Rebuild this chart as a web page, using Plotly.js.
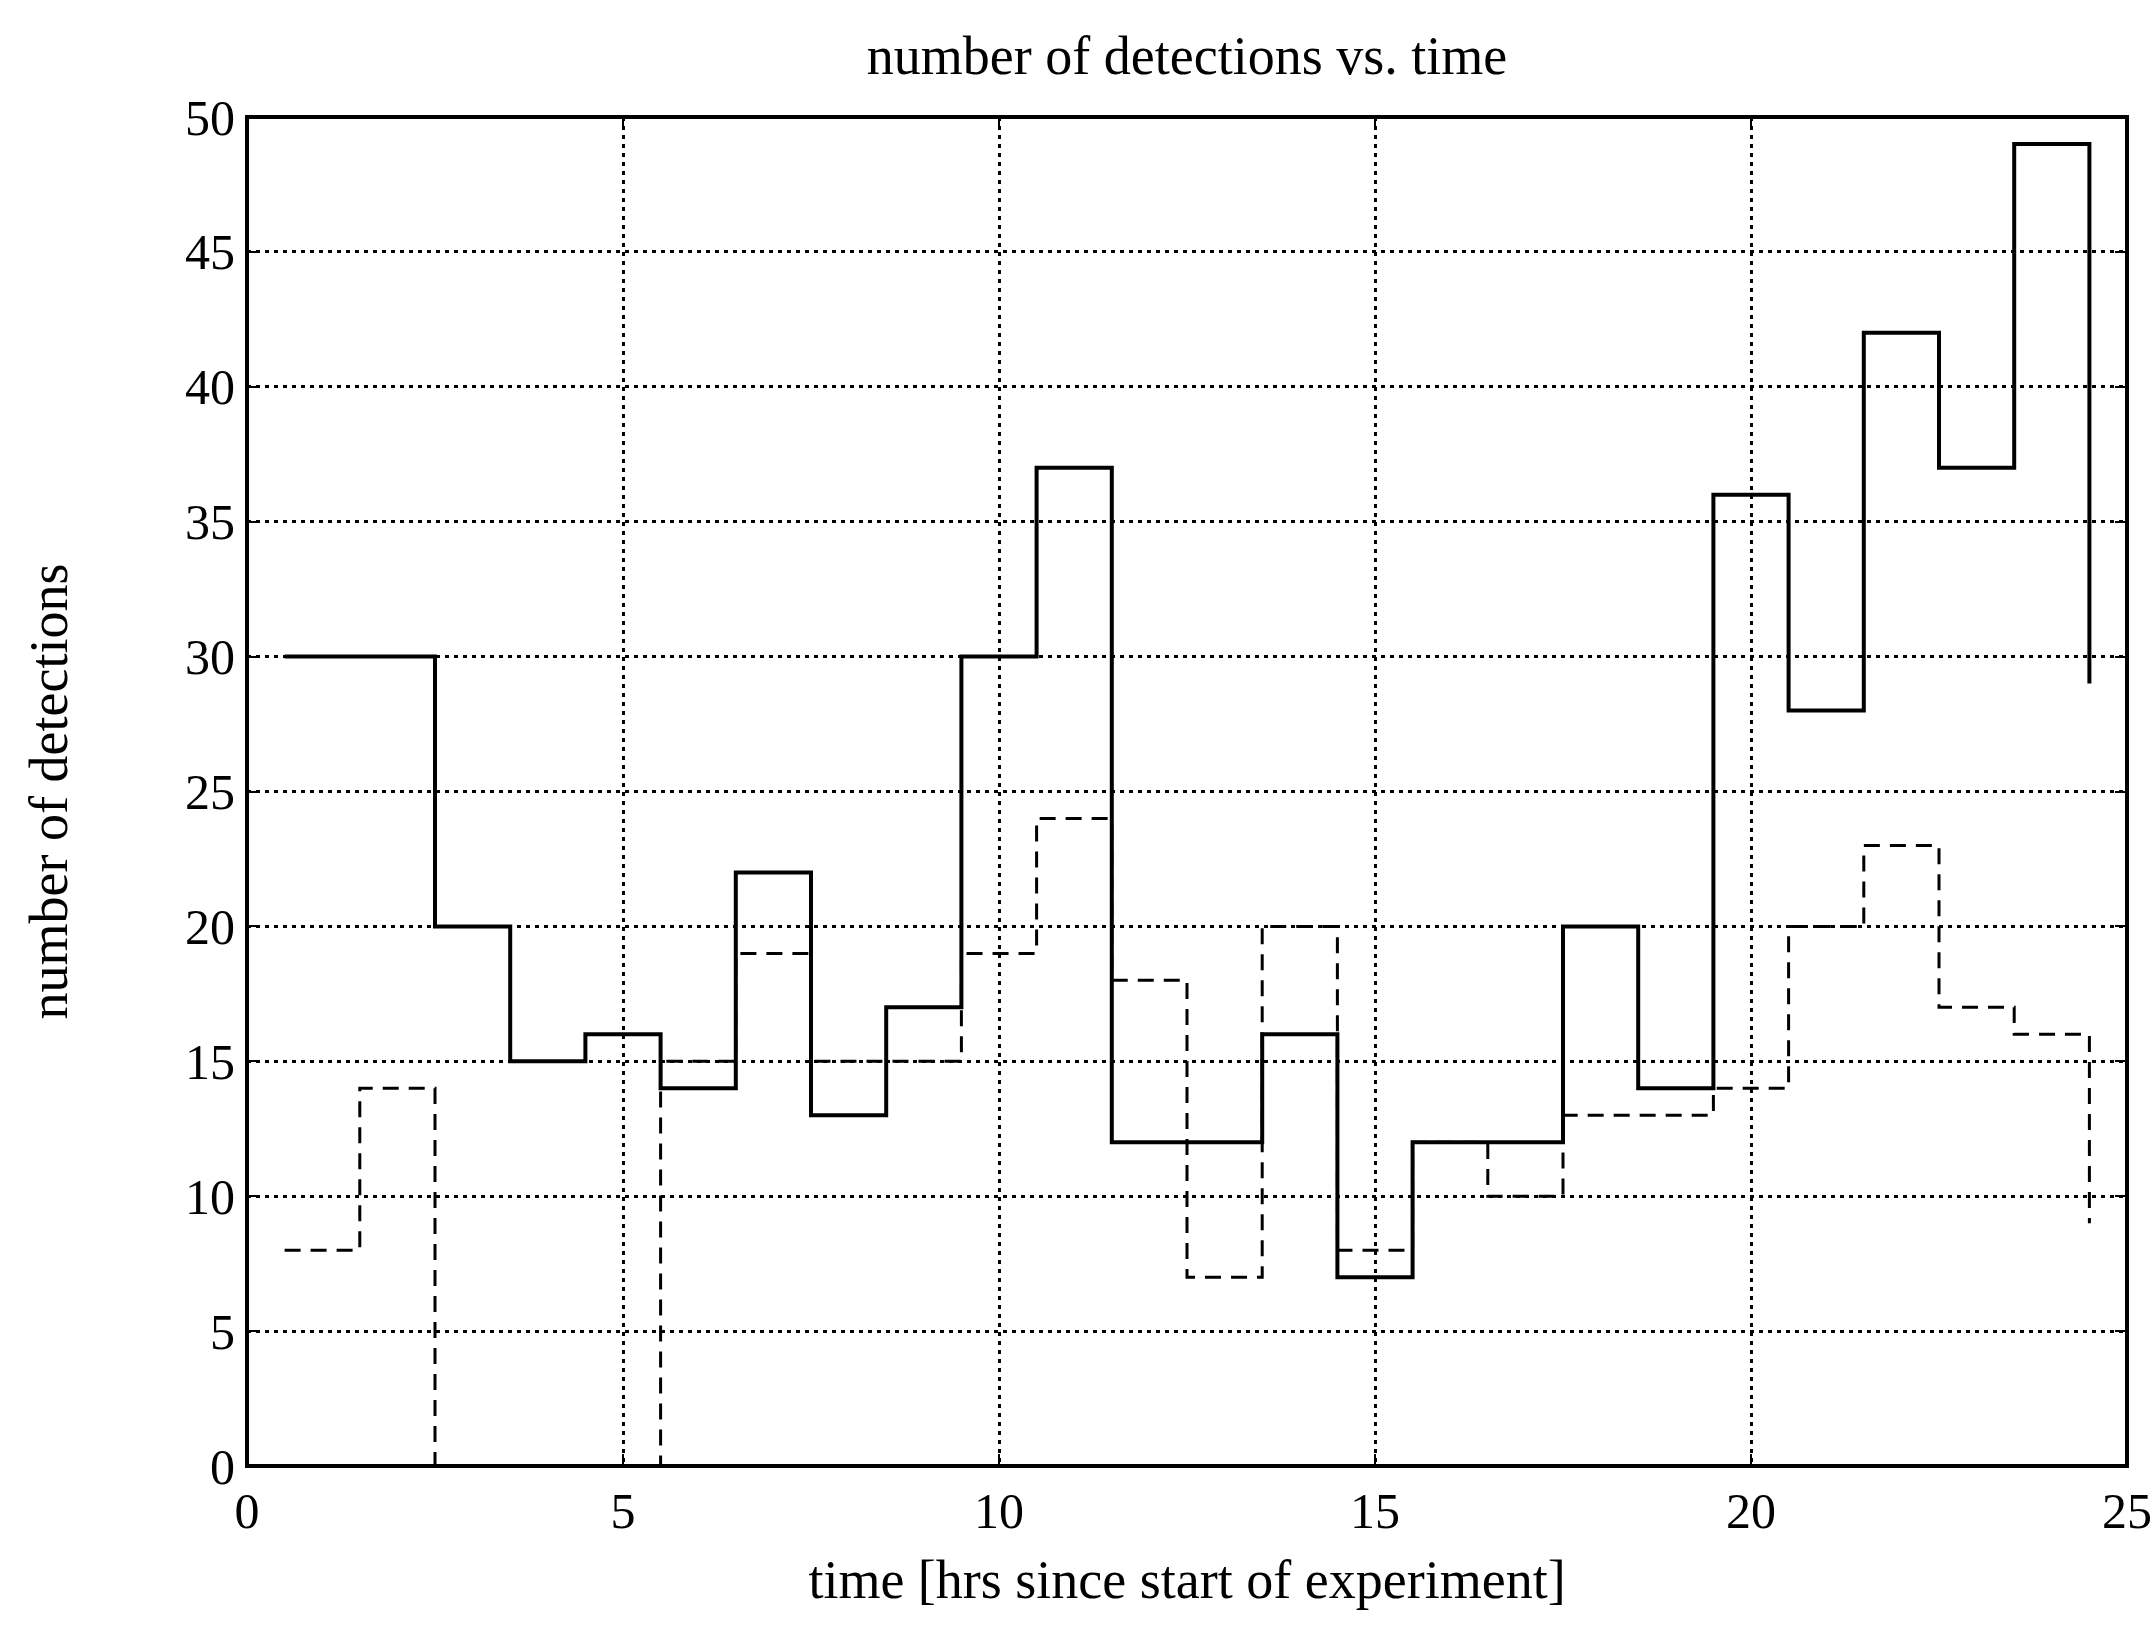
<!DOCTYPE html>
<html>
<head>
<meta charset="utf-8">
<script src="https://cdn.plot.ly/plotly-3.0.1.min.js"></script>
<style>
  html, body { margin: 0; padding: 0; background: #ffffff; }
  #chart { width: 2152px; height: 1646px; }
</style>
</head>
<body>
<div id="chart"></div>
<script>
// Stair edges (hours) and counts per hour bin, last point is the closing value
const timeEdges = [0.5, 1.5, 2.5, 3.5, 4.5, 5.5, 6.5, 7.5, 8.5, 9.5, 10.5, 11.5, 12.5,
                   13.5, 14.5, 15.5, 16.5, 17.5, 18.5, 19.5, 20.5, 21.5, 22.5, 23.5, 24.5];
const solidCounts = [30, 30, 20, 15, 16, 14, 22, 13, 17, 30, 37, 12, 12,
                     16, 7, 12, 12, 20, 14, 36, 28, 42, 37, 49, 29];
const dashedCounts = [8, 14, 0, 0, 0, 15, 19, 15, 15, 19, 24, 18, 7,
                      20, 8, 12, 10, 13, 13, 14, 20, 23, 17, 16, 9];
const xTicks = [0, 5, 10, 15, 20, 25];
const yTicks = [0, 5, 10, 15, 20, 25, 30, 35, 40, 45, 50];

const FONT = "Liberation Serif, Times New Roman, serif";

const traces = [
  {
    x: timeEdges, y: solidCounts, type: 'scatter', mode: 'lines',
    line: { shape: 'hv', color: '#000000', width: 4 },
    hoverinfo: 'x+y'
  },
  {
    x: timeEdges, y: dashedCounts, type: 'scatter', mode: 'lines',
    line: { shape: 'hv', color: '#000000', width: 3, dash: '16px,10px' },
    hoverinfo: 'x+y'
  }
];

const axisCommon = {
  showline: true, linecolor: '#000000', linewidth: 2, mirror: 'ticks',
  ticks: 'inside', ticklen: 12, tickwidth: 2, tickcolor: '#000000',
  showgrid: true, gridcolor: '#000000', gridwidth: 3, griddash: '4px,5px',
  zeroline: false,
  tickfont: { family: FONT, size: 50, color: '#000000' }
};

const layout = {
  width: 2152, height: 1646,
  paper_bgcolor: '#ffffff', plot_bgcolor: '#ffffff',
  margin: { l: 247, r: 25, t: 117, b: 180 },
  showlegend: false,
  title: {
    text: 'number of detections vs. time',
    font: { family: FONT, size: 54, color: '#000000' },
    x: 0.5, xref: 'paper', xanchor: 'center',
    y: 1 - 55 / 1646, yref: 'container', yanchor: 'middle'
  },
  xaxis: Object.assign({}, axisCommon, {
    range: [0, 25], tickmode: 'array', tickvals: xTicks, ticktext: xTicks.map(String),
    title: { text: 'time [hrs since start of experiment]', font: { family: FONT, size: 54, color: '#000000' }, standoff: 22 }
  }),
  yaxis: Object.assign({}, axisCommon, {
    range: [0, 50], tickmode: 'array', tickvals: yTicks, ticktext: yTicks.map(String),
    title: { text: 'number of detections', font: { family: FONT, size: 54, color: '#000000' }, standoff: 100 }
  }),
  shapes: [
    { type: 'rect', xref: 'paper', yref: 'paper', x0: 0, x1: 1, y0: 0, y1: 1,
      line: { color: '#000000', width: 4 }, fillcolor: 'rgba(0,0,0,0)', layer: 'above' }
  ]
};

Plotly.newPlot('chart', traces, layout, { displayModeBar: false, staticPlot: true });
</script>
</body>
</html>
